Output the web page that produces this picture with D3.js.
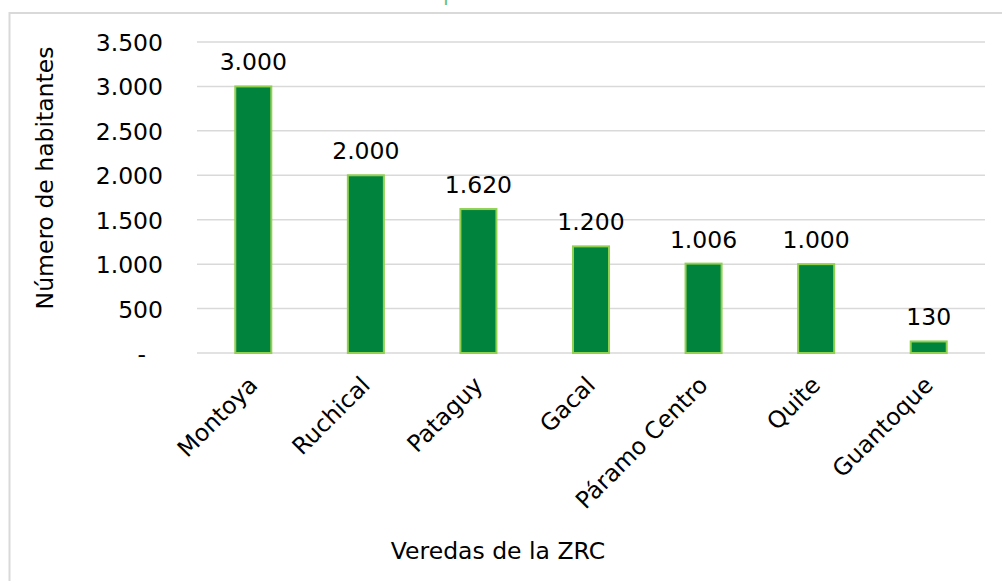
<!DOCTYPE html>
<html>
<head>
<meta charset="utf-8">
<script src="https://cdn.jsdelivr.net/npm/d3@7"></script>
<style>
  html, body { margin: 0; padding: 0; background: #fff; overflow: hidden; }
  svg { display: block; font-family: "DejaVu Sans", Verdana, sans-serif; }
</style>
</head>
<body>
<script>
const width = 1002;
const height = 581;

// data
const veredas = ["Montoya", "Ruchical", "Pataguy", "Gacal", "Páramo Centro", "Quite", "Guantoque"];
const habitantes = [3000, 2000, 1620, 1200, 1006, 1000, 130];
const yTicks = [0, 500, 1000, 1500, 2000, 2500, 3000, 3500];

const titleText = "Gráfico 5. Número de habitantes por vereda de la ZRC";
const yTitle = "Número de habitantes";
const xTitle = "Veredas de la ZRC";

const fmt = v => v === 0 ? "-" : d3.format(",")(v).replace(/,/g, ".");

const margin = {left: 197, right: 17, top: 42, bottom: 228};

const svg = d3.select("body")
  .append("svg")
  .attr("width", width)
  .attr("height", height)
  .attr("viewBox", [0, 0, width, height]);

// title, mostly cut off at the top edge (as in the source image)
svg.append("text")
  .attr("x", 0)
  .attr("y", 0.3)
  .attr("font-size", 23.5)
  .attr("fill", "#00a04a")
  .attr("fill-opacity", 0.6)
  .attr("textLength", 722)
  .attr("lengthAdjust", "spacing")
  .text(titleText);

// chart frame
svg.append("rect")
  .attr("x", 9.5)
  .attr("y", 13)
  .attr("width", 1100)
  .attr("height", 700)
  .attr("fill", "#fff")
  .attr("stroke", "#d9d9d9")
  .attr("stroke-width", 2);

const x = d3.scaleBand()
  .domain(veredas)
  .range([margin.left, width - margin.right])
  .paddingInner(0.68)
  .paddingOuter(0.34);

const y = d3.scaleLinear()
  .domain([0, 3500])
  .range([height - margin.bottom, margin.top]);

// gridlines
svg.append("g")
  .selectAll("line")
  .data(yTicks)
  .join("line")
  .attr("x1", margin.left)
  .attr("x2", width - margin.right)
  .attr("y1", d => y(d))
  .attr("y2", d => y(d))
  .attr("stroke", "#d9d9d9")
  .attr("stroke-width", 1.5);

// y axis labels
const yAxis = svg.append("g")
  .attr("transform", `translate(${163},0)`)
  .call(d3.axisLeft(y).tickValues(yTicks).tickFormat(fmt).tickSize(0).tickPadding(0));
yAxis.select(".domain").remove();
yAxis.selectAll("text")
  .attr("font-size", 23.5)
  .attr("font-family", "DejaVu Sans, Verdana, sans-serif")
  .attr("fill", "#000")
  .attr("dy", "0.36em")
  .attr("x", d => d === 0 ? -17 : 0);

// bars
svg.append("g")
  .selectAll("rect")
  .data(veredas)
  .join("rect")
  .attr("x", d => x(d))
  .attr("width", x.bandwidth())
  .attr("y", (d, i) => y(habitantes[i]))
  .attr("height", (d, i) => y(0) - y(habitantes[i]))
  .attr("fill", "#00843d")
  .attr("stroke", "#92d050")
  .attr("stroke-width", 2);

// value labels
svg.append("g")
  .selectAll("text")
  .data(veredas)
  .join("text")
  .attr("x", d => x(d) + x.bandwidth() / 2)
  .attr("y", (d, i) => y(habitantes[i]) - 16)
  .attr("text-anchor", "middle")
  .attr("font-size", 23.5)
  .attr("fill", "#000")
  .text((d, i) => fmt(habitantes[i]));

// x axis labels, rotated
svg.append("g")
  .selectAll("text")
  .data(veredas)
  .join("text")
  .attr("transform", d => `translate(${x(d) + x.bandwidth() / 2 - 7},${y(0) + 21}) rotate(-45)`)
  .attr("text-anchor", "end")
  .attr("dy", "0.76em")
  .attr("font-size", 23.5)
  .attr("fill", "#000")
  .text(d => d);

// axis titles
svg.append("text")
  .attr("transform", `translate(${45},${178}) rotate(-90)`)
  .attr("text-anchor", "middle")
  .attr("dy", "0.35em")
  .attr("font-size", 23.5)
  .attr("fill", "#000")
  .text(yTitle);

svg.append("text")
  .attr("x", 498)
  .attr("y", 559)
  .attr("text-anchor", "middle")
  .attr("font-size", 23.5)
  .attr("fill", "#000")
  .text(xTitle);
</script>
</body>
</html>
